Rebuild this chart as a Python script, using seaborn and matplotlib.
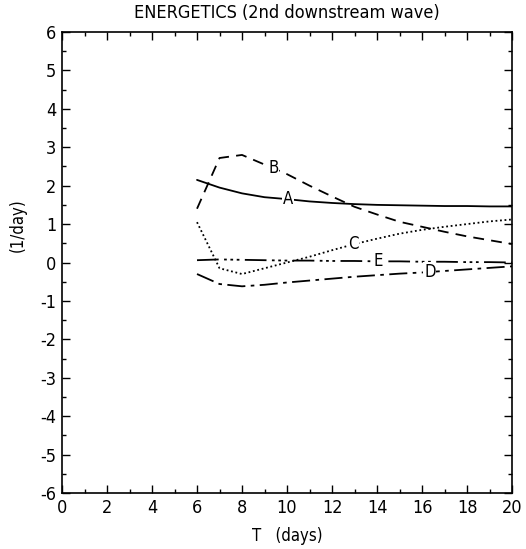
import matplotlib
matplotlib.use("Agg")
import matplotlib.pyplot as plt
import seaborn as sns
import pandas as pd
from matplotlib.ticker import MultipleLocator
from matplotlib import font_manager

sns.set_theme(style="ticks")
fams = set(f.name for f in font_manager.fontManager.ttflist)
base = "Liberation Sans Narrow" if "Liberation Sans Narrow" in fams else "DejaVu Sans"
plt.rcParams['font.family'] = [base, 'DejaVu Sans']
plt.rcParams['font.stretch'] = 'condensed'
plt.rcParams['axes.unicode_minus'] = False
plt.rcParams['text.color'] = 'black'
plt.rcParams['axes.labelcolor'] = 'black'
plt.rcParams['xtick.color'] = 'black'
plt.rcParams['ytick.color'] = 'black'

# Data
days_full = [6, 7, 8, 9, 10, 11, 12, 13, 14, 15, 16, 17, 18, 19, 20]
curve_A = [2.15, 1.95, 1.80, 1.70, 1.65, 1.59, 1.55, 1.52, 1.50, 1.49, 1.48, 1.47, 1.47, 1.46, 1.46]
curve_B = [1.40, 2.72, 2.80, 2.55, 2.30, 2.00, 1.72, 1.45, 1.25, 1.06, 0.93, 0.80, 0.68, 0.58, 0.48]
curve_C = [1.05, -0.15, -0.30, -0.15, 0.00, 0.15, 0.32, 0.48, 0.62, 0.75, 0.85, 0.93, 1.00, 1.07, 1.12]
curve_D = [-0.30, -0.56, -0.62, -0.58, -0.52, -0.47, -0.42, -0.37, -0.33, -0.29, -0.26, -0.22, -0.18, -0.14, -0.10]
curve_E = [0.06, 0.08, 0.07, 0.06, 0.05, 0.05, 0.04, 0.04, 0.03, 0.03, 0.02, 0.02, 0.01, 0.01, 0.00]
series_names = ["A", "B", "C", "D", "E"]
label_pos = {"A": (10.05, 1.65), "B": (9.4, 2.45), "C": (12.95, 0.48), "D": (16.35, -0.25), "E": (14.05, 0.03)}

styles = {
    "A": "-",
    "B": (0, (6, 4)),
    "C": (0, (1, 1.5)),
    "D": (0, (10, 3, 2, 3)),
    "E": (0, (12, 3, 1.5, 2, 1.5, 2, 1.5, 3)),
}

fig = plt.figure(figsize=(5.26, 5.49), dpi=100)
ax = fig.add_axes([0.1179, 0.102, 0.8555, 0.8397])

for name, vals in zip(series_names, [curve_A, curve_B, curve_C, curve_D, curve_E]):
    df = pd.DataFrame({"T": days_full, "v": vals})
    sns.lineplot(data=df, x="T", y="v", ax=ax, color="black", lw=1.3,
                 linestyle=styles[name])
    lx, ly = label_pos[name]
    ax.text(lx, ly, name, fontsize=12, ha="center", va="center",
            bbox=dict(facecolor="white", edgecolor="none", pad=0.5))

ax.set_xlim(0, 20)
ax.set_ylim(-6, 6)
ax.xaxis.set_major_locator(MultipleLocator(2))
ax.xaxis.set_minor_locator(MultipleLocator(1))
ax.yaxis.set_major_locator(MultipleLocator(1))
ax.yaxis.set_minor_locator(MultipleLocator(0.5))
ax.tick_params(which="both", direction="in", top=True, right=True, color="black")
ax.tick_params(which="major", length=6, width=1, labelsize=13, pad=4)
ax.tick_params(which="minor", length=3, width=1)
for s in ax.spines.values():
    s.set_color("black")
    s.set_linewidth(1.2)

ax.set_xlabel("T   (days)", fontsize=12)
ax.xaxis.set_label_coords(0.5, -0.074)
ax.set_ylabel("(1/day)", fontsize=12)
ax.yaxis.set_label_coords(-0.078, 0.58)
ax.set_title("ENERGETICS (2nd downstream wave)", fontsize=13, pad=10)

fig.savefig("out.png", dpi=100)
